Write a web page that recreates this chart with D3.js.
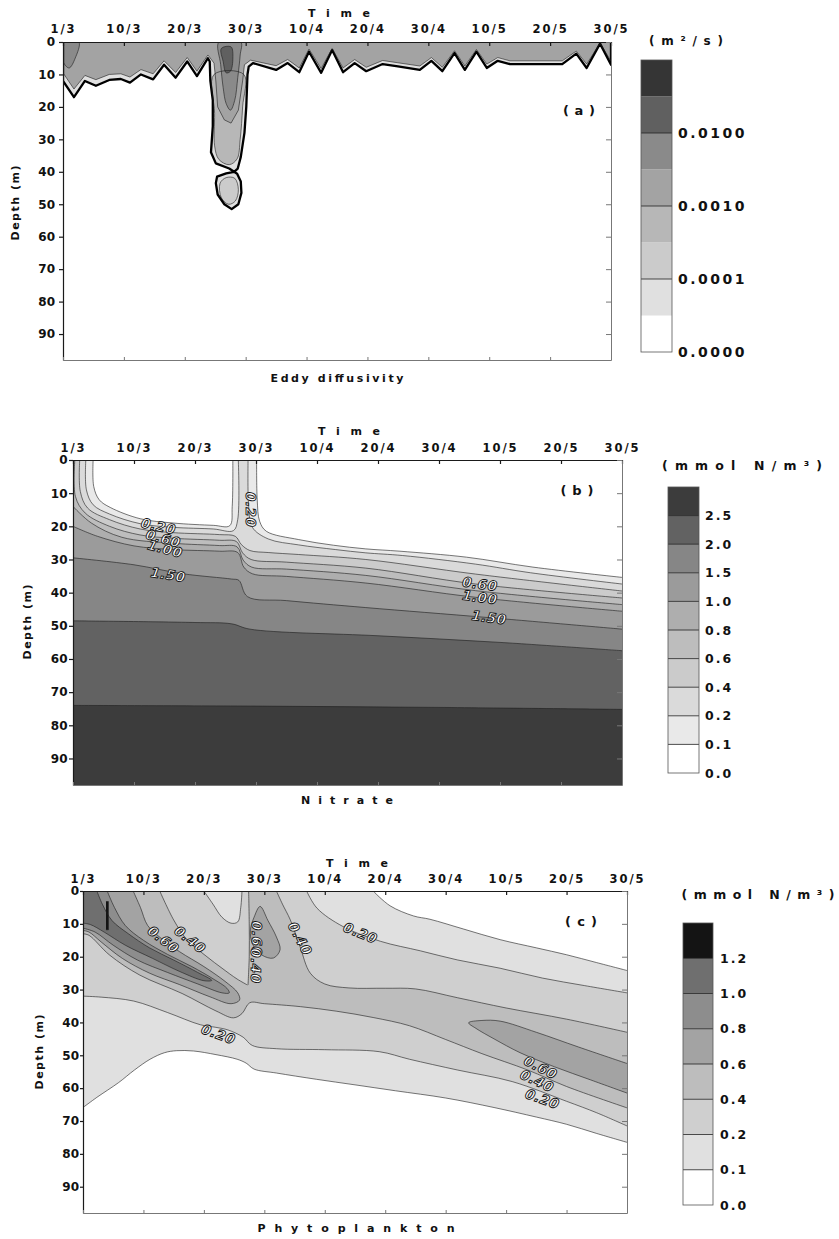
<!DOCTYPE html>
<html>
<head>
<meta charset="utf-8">
<title>Eddy diffusivity, nitrate and phytoplankton</title>
<script src="https://cdn.jsdelivr.net/npm/d3@7"></script>
<style>
	body { margin: 0; background: #fff; }
	svg text { font-family: "DejaVu Sans", "Liberation Sans", Arial, sans-serif; font-weight: bold; fill: #111; }
	.clabel { font-style: italic; fill: #fff; stroke: #111; stroke-width: 0.9px; text-rendering: geometricPrecision; }
</style>
</head>
<body>
<svg id="fig" width="839" height="1239"></svg>
<script>

// ---- shared axes ----
const dayTicks = [0, 10, 20, 30, 40, 50, 60, 70, 80, 90];
const dayLabels = ["1/3", "10/3", "20/3", "30/3", "10/4", "20/4", "30/4", "10/5", "20/5", "30/5"];
const depthTicks = [0, 10, 20, 30, 40, 50, 60, 70, 80, 90];
const dayDomain = [0, 90];
const depthDomain = [0, 98];

// ---- (a) eddy diffusivity, log10(m2/s); points are [day, depth] ----
const kzLevels = [-5, -4.5, -4, -3.5, -3, -2.5, -2, -1.5, -1];
const kzGrays = ["#ffffff", "#e0e0e0", "#cbcbcb", "#b7b7b7", "#a3a3a3", "#8a8a8a", "#606060", "#353535"];
const kzBarLabels = [["0.0000", -5], ["0.0001", -4], ["0.0010", -3], ["0.0100", -2]];

const kzOuter = [[0,0],[0,12],[1.8,17],[3.6,12],[5.4,13.5],[7.6,11.7],[9.5,11.4],[11,12.5],[12.8,10],[14.8,11.5],
	[16.6,7],[18.5,11],[20.4,6],[22,10.5],[23.8,5],[24.1,6],[24.2,12],[24.6,18],[24.6,26],[24.3,34],[25.1,37.4],
	[27.3,39],[28.1,40],[26.8,40.5],[25.3,41.5],[25.1,43.5],[25.4,47],[26.5,50],[27.7,51.5],[28.8,50],[29.3,46.5],
	[29.2,43],[28.6,40.6],[28.1,40],[28.7,39],[29.2,35.4],[29.8,28],[30.1,20],[30.3,10],[30.5,7.6],[31.2,6.5],
	[35,8.6],[36.9,6.5],[38.8,9.3],[40.4,3],[42.4,9.5],[44.2,2.5],[46,9.3],[47.9,6.5],[49.8,9],[52.5,6.8],[55,7.5],
	[58.6,8.6],[60.5,5.8],[62.3,9],[64.3,3.4],[66,8.6],[67.9,3],[69.6,8],[71.4,5.8],[73.4,6.8],[82,6.8],[84.3,3.6],
	[86,8],[88.2,0.5],[90,7],[90,0]];
const kzInner = [[0,0],[0,9.5],[1.8,14.5],[3.6,10.3],[5.4,11.6],[7.6,10],[9.5,9.8],[11,10.8],[12.8,8.5],[14.8,9.8],[16.6,5.8],
	[18.5,9.4],[20.4,4.8],[22,9],[23.8,4],[24.8,6.5],[25.1,12],[25.4,20],[26.5,24],[27.6,25],[28.8,21],[29.5,12],
	[29.8,7],[30.8,5.6],[35,7.3],[36.9,5.4],[38.8,8],[40.4,2.2],[42.4,8.2],[44.2,2],[46,8],[47.9,5.4],[49.8,7.8],
	[52.5,5.7],[55,6.4],[58.6,7.4],[60.5,4.8],[62.3,7.8],[64.3,2.7],[66,7.4],[67.9,2.3],[69.6,6.8],[71.4,4.8],
	[73.4,5.8],[82,5.8],[84.3,2.8],[86,6.8],[88.2,0.4],[90,5.9],[90,0]];
const kzColumnMid = [[24.8,10],[24.9,22],[24.9,32],[25.6,36.2],[27.3,37.8],[28.6,36],[29.1,30],[29.5,20],[29.7,10]];
const kzLowerLobe = [[25.8,43.5],[26.8,41.8],[28.2,42],[28.8,45.5],[28.3,49],[27.2,50],[26,48]];
const kzColumnTop = [[25.6,0],[25.9,7],[26.3,14],[26.8,19],[27.5,21],[28.2,18],[28.7,11],[29.1,4],[29.2,0]];
const kzCornerTop = [[0,0],[0,6],[1,8],[2,5],[2.6,0]];
const kzPeak = [[26,2],[26.3,6],[26.8,9.5],[27.5,9],[27.9,5],[27.6,1.5]];

// ---- (b) nitrate isolines, mmol N/m3 ----
const no3Levels = [0, 0.1, 0.2, 0.4, 0.6, 0.8, 1.0, 1.5, 2.0, 2.5, 3.0];
const no3Grays = ["#ffffff", "#e9e9e9", "#dadada", "#cbcbcb", "#bdbdbd", "#aeaeae", "#9b9b9b", "#868686", "#626262", "#3c3c3c"];
const no3BarLabels = [["0.0",0],["0.1",0.1],["0.2",0.2],["0.4",0.4],["0.6",0.6],["0.8",0.8],["1.0",1.0],["1.5",1.5],["2.0",2.0],["2.5",2.5]];

const no3Iso01a = [[3.3,0],[3.4,8],[4.3,12],[6.1,14.3],[11,17.7],[16.4,19],[23,19.7],[25.7,19.8],[26.1,14],[26.2,0]];
const no3Iso01b = [[30.1,0],[30.2,12],[30.6,18.5],[31.7,21.5],[37,24],[42.7,25.7],[48,26.8],[53.6,27.5],[64.5,29.3],[75.4,32.3],[90,35.4]];
const no3Iso02a = [[2.1,0],[2.2,9],[3.3,13.5],[6,16.3],[11,19.2],[16.4,20.3],[23,20.8],[26.3,21.3],[27,18],[27.1,0]];
const no3Iso02b = [[28.7,0],[28.8,14],[29.4,20.3],[32,23.8],[37,25.6],[43,27],[48,28],[54,28.8],[66,31.4],[75,34],[90,37.4]];
const no3Iso04 = [[1.1,0],[1.2,9.5],[2.4,14.5],[6,18],[11,20.8],[16.4,21.9],[24,22.5],[26.6,23],[27.6,25.5],[29,27.3],[32,27.9],[37,28.5],[48,30],[66,34.4],[90,39.5]];
const no3Iso06 = [[0.3,0],[0.4,11],[2,16],[6,20],[11,22.6],[16.4,23.6],[24,24.2],[26.8,24.6],[27.8,28],[29.2,30],[35,30.8],[48,32.6],[66,37.4],[90,41.6]];
const no3Iso08 = [[0,14],[3,19],[8,23.3],[16.4,25.1],[24,25.8],[26.9,26.2],[27.9,30.2],[29.3,32.3],[35,32.9],[48,34.8],[66,39.4],[90,43.6]];
const no3Iso10 = [[0,20],[4,23],[10,25.9],[16.4,27],[24,27.5],[27,27.9],[28,32.3],[29.4,34.3],[35,35.1],[48,37.1],[66,41.4],[90,45.6]];
const no3Iso15 = [[0,29.5],[10,31.6],[18,34.3],[26,35.9],[27.2,36.3],[28.6,41.2],[35,42.4],[48,44.5],[68,47.5],[90,51]];
const no3Iso20 = [[0,48.5],[20,49],[26,49.4],[29,51],[50,53],[70,55],[90,57.5]];
const no3Iso25 = [[0,74],[30,74.2],[60,74.6],[90,75.2]];
// [text, day, depth, angle]
const no3Labels = [["0.20",14,20,12],["0.60",14.8,23.7,15],["1.00",15.1,26.8,15],["1.50",15.6,34.6,9],
	["0.20",29.1,15,90],["0.60",66.7,37.4,8],["1.00",66.7,41.4,8],["1.50",68.2,47.5,8]];

// ---- (c) phytoplankton isolines, mmol N/m3 ----
const phyLevels = [0, 0.1, 0.2, 0.4, 0.6, 0.8, 1.0, 1.2, 1.4];
const phyGrays = ["#ffffff", "#e0e0e0", "#cfcfcf", "#bdbdbd", "#a3a3a3", "#8d8d8d", "#6f6f6f", "#141414"];
const phyBarLabels = [["0.0",0],["0.1",0.1],["0.2",0.2],["0.4",0.4],["0.6",0.6],["0.8",0.8],["1.0",1.0],["1.2",1.2]];

const phyIso01Upper = [[48,0],[50.8,4.5],[54.7,7.6],[57.4,8.6],[63,11.6],[69,14.8],[75,17.3],[80,19.4],[85,21.8],[90,24.2]];
const phyIso01Lower = [[90,76.5],[85,73.8],[80,71],[75,68.8],[68,65.9],[60,63],[51.7,60.8],[45,59],[38.6,57.3],[32,55.4],
	[28.3,54.2],[27,52.4],[25.5,51.2],[22,49.8],[18.3,48.7],[15.5,48.6],[13.5,49.2],[11.1,51.2],[8.5,54.5],[5.9,58.3],[2.3,62.8],[0,65.9]];
const phyIso02Notch = [[20,0],[21.5,4],[23,8],[24.5,9.8],[25.6,9.4],[26.1,5],[26.3,0]];
const phyIso02Upper = [[37,0],[38.7,5.2],[43,10.8],[49.2,15.3],[55.8,18.2],[62,21],[69,23.5],[76,26.5],[83,28.8],[90,31]];
const phyIso02Lower = [[90,71.5],[85,67.5],[80,64],[71,58],[62,54.5],[54,51.2],[49,48.9],[40,48.3],[32,48],[28,47],
	[26.5,44.5],[24,42.3],[22,41.5],[19.4,40.7],[14,37],[8.4,33.5],[3,32.3],[0,32]];
const phyIso04Diag = [[12.7,0],[15,8.8],[17.2,14.8],[20.5,20],[23,23.5],[25.5,26.8],[27.2,28.6]];
const phyIso04Wall = [[27.3,28.6],[27.5,20],[27.5,10],[27.4,0]];
const phyIso04Upper = [[32,0],[33,4],[34.3,8.8],[35.9,16.9],[37.6,25],[40,28.3],[44,29.5],[50,29.6],[55,29.8],[62,32.5],[70,35.6],[80,39],[90,43]];
const phyIso04Lower = [[90,66],[80,59.5],[73.6,54.5],[66,49.5],[60,45.2],[54,41],[48,38.5],[42,36.6],[36,35.2],[30,34.3],
	[27.6,34],[26.3,37.3],[24.9,38.6],[22,36.5],[16.4,31.2],[9.4,25.6],[4.4,19.5],[1,13.5],[0,13]];
const phyIso06Diag = [[8.3,0],[9.5,5],[10.7,10.5],[13,14.5],[16,18.5],[20,23],[23.5,27.5],[25.6,31],[25.9,33.2],[24.5,34.3],
	[21,32.2],[16,28.5],[11,25],[6.5,20.5],[3,15.5],[1,12.5],[0,12]];
const phyIso06Column = [[29.3,4.7],[30.6,9],[32,14],[32.6,17.9],[31.5,20.4],[29.6,19.5],[28,16],[27.7,11.8],[28.3,8]];
const phyIso06Right = [[90,52.5],[82,47.5],[75,43],[69,39.6],[66,39.4],[63.8,40.1],[65,41.8],[68,45],[72.3,49.2],[78,53.5],[84,57.5],[90,61.5]];
const phyIso08 = [[4,0],[5.2,5],[7,10.5],[10,15],[14,19.3],[18,23],[21.5,26.7],[23.8,29.6],[24.2,31],[23,31],[19,28.3],[14,24.8],[9,21],[5,16.5],[2,12.5],[0,11.3]];
const phyIso10 = [[2.3,0],[3.2,4],[4.8,9],[7.5,13],[11,17.3],[15,21],[19,24.8],[21.3,27.2],[20,27.3],[16,24.5],[11.5,20.5],[7,16.5],[3.5,12.5],[1.2,10.2],[0,9.8]];
const phyIso12 = [[3.8,3.2],[4.2,3.2],[4.2,11.8],[3.8,11.8]];
const phyLabels = [["0.60",13.3,14.8,38],["0.40",17.7,14.8,38],["0.60",28.7,14.5,90],["0.40",28.6,22.8,90],
	["0.40",35.9,14.5,62],["0.20",45.9,12.8,22],["0.20",22.4,43.6,20],["0.60",75.7,53.7,27],["0.40",75.1,57.8,25],["0.20",76,63.3,20]];


function whenDocumentLoaded(action) {
	if (document.readyState === "loading") {
		document.addEventListener("DOMContentLoaded", action);
	} else {
		action();
	}
}

class ContourPanel {

	constructor(svg, name, box, levels, grays) {
		this.svg = svg;
		this.box = box;
		this.levels = levels;
		this.grays = grays;

		this.x = d3.scaleLinear().domain(dayDomain).range([box.left, box.right]);
		this.y = d3.scaleLinear().domain(depthDomain).range([box.top, box.bottom]);

		const clip_id = 'clip-' + name;
		svg.append('clipPath').attr('id', clip_id)
			.append('rect')
			.attr('x', box.left).attr('y', box.top)
			.attr('width', box.right - box.left).attr('height', box.bottom - box.top);

		this.plot_area = svg.append('g').attr('clip-path', 'url(#' + clip_id + ')');
		this.line_area = svg.append('g').attr('clip-path', 'url(#' + clip_id + ')');
		this.label_area = svg.append('g');
	}

	colorOf(v) {
		return this.grays[this.levels.indexOf(v)];
	}

	/*
		A region is a list of pieces: pieces of 1 or 2 points are corners on the frame (straight),
		longer pieces are isolines (smoothed when region.smooth is set)
	*/
	regionPath(region) {
		const line = d3.line().x(p => this.x(p[0])).y(p => this.y(p[1]));
		if (region.closed) {
			return line.curve(d3.curveCatmullRomClosed.alpha(0.5))(region.parts[0]);
		}
		return region.parts.map((pts, i) => {
			let s;
			if (region.smooth && pts.length > 2) {
				s = line.curve(d3.curveCatmullRom.alpha(0.5))(pts);
				s = s.slice(1);
			} else {
				s = pts.map(p => this.x(p[0]) + ',' + this.y(p[1])).join('L');
			}
			return (i === 0 ? 'M' : 'L') + s;
		}).join('') + 'Z';
	}

	drawRegions(regions) {
		// lowest level first, so each inner region sits on top of the one around it
		regions.slice().sort((a, b) => a.v - b.v).forEach(region => {
			this.plot_area.append('path')
				.attr('d', this.regionPath(region))
				.attr('fill', this.colorOf(region.v));
		});

		// contour lines, only along the isolines, not along the frame
		const line = d3.line().x(p => this.x(p[0])).y(p => this.y(p[1]));
		regions.forEach(region => {
			const width = region.thick ? 2.3 : 0.6;
			const color = region.thick ? '#000' : '#1d1d1d';
			if (region.closed) {
				this.line_area.append('path')
					.attr('d', this.regionPath(region))
					.attr('fill', 'none').attr('stroke', color).attr('stroke-width', width);
				return;
			}
			region.parts.filter(pts => pts.length > 2).forEach(pts => {
				const curve = region.smooth ? d3.curveCatmullRom.alpha(0.5) : d3.curveLinear;
				this.line_area.append('path')
					.attr('d', line.curve(curve)(pts))
					.attr('fill', 'none').attr('stroke', color)
					.attr('stroke-width', width).attr('stroke-linejoin', 'round');
			});
		});
	}

	drawLabels(labels) {
		this.label_area.selectAll('text.clabel')
			.data(labels)
			.enter()
			.append('text')
			.attr('class', 'clabel')
			.attr('text-anchor', 'middle')
			.attr('dy', '0.35em')
			.attr('font-size', 13.5)
			.attr('letter-spacing', 0.5)
			.attr('transform', d => 'translate(' + this.x(d[1]) + ',' + this.y(d[2]) + ') rotate(' + d[3] + ')')
			.text(d => d[0]);
	}

	drawAxes(style) {
		const box = this.box;
		const axes = this.svg.append('g');

		const top = axes.append('g')
			.attr('transform', 'translate(0,' + box.top + ')')
			.call(d3.axisTop(this.x).tickValues(dayTicks).tickFormat((d, i) => dayLabels[i])
				.tickSizeInner(-4).tickSizeOuter(0).tickPadding(style.topPad));
		top.selectAll('text').attr('font-size', 11.5).attr('letter-spacing', 2).attr('font-family', null);

		const left = axes.append('g')
			.attr('transform', 'translate(' + box.left + ',0)')
			.call(d3.axisLeft(this.y).tickValues(depthTicks).tickSizeInner(style.leftTick).tickSizeOuter(0)
				.tickPadding(style.leftPad));
		left.selectAll('text').attr('font-size', 12).attr('font-family', null);

		const right = axes.append('g')
			.attr('transform', 'translate(' + box.right + ',0)')
			.call(d3.axisRight(this.y).tickValues(depthTicks).tickSizeInner(-5).tickSizeOuter(0).tickFormat(''));
		const bottom = axes.append('g')
			.attr('transform', 'translate(0,' + box.bottom + ')')
			.call(d3.axisBottom(this.x).tickValues(dayTicks).tickSizeInner(-3).tickSizeOuter(0).tickFormat(''));

		[top, left].forEach(a => a.selectAll('path, line').attr('stroke', '#1a1a1a').attr('stroke-width', 1.2));
		[right, bottom].forEach(a => a.selectAll('path, line').attr('stroke', '#777').attr('stroke-width', 1));
		axes.selectAll('text').attr('fill', '#111');
	}

	drawColorbar(bar, labels) {
		const n = this.grays.length;
		const yb = d3.scaleLinear().domain([0, n]).range([bar.y1, bar.y0]);
		const g = this.svg.append('g');

		g.selectAll('rect.band')
			.data(this.grays)
			.enter()
			.append('rect')
			.attr('class', 'band')
			.attr('x', bar.x0).attr('width', bar.x1 - bar.x0)
			.attr('y', (d, i) => yb(i + 1))
			.attr('height', (d, i) => yb(i) - yb(i + 1))
			.attr('fill', d => d);

		g.selectAll('line.sep')
			.data(labels.filter(l => this.levels.indexOf(l[1]) > 0))
			.enter()
			.append('line')
			.attr('x1', bar.x0).attr('x2', bar.x1)
			.attr('y1', d => yb(this.levels.indexOf(d[1])))
			.attr('y2', d => yb(this.levels.indexOf(d[1])))
			.attr('stroke', '#222').attr('stroke-width', 0.8);

		g.append('rect')
			.attr('x', bar.x0).attr('y', bar.y0)
			.attr('width', bar.x1 - bar.x0).attr('height', bar.y1 - bar.y0)
			.attr('fill', 'none').attr('stroke', '#555').attr('stroke-width', 0.8);

		g.selectAll('text')
			.data(labels)
			.enter()
			.append('text')
			.attr('x', bar.lx)
			.attr('y', d => yb(this.levels.indexOf(d[1])))
			.attr('dy', '0.36em')
			.attr('font-size', bar.size)
			.attr('letter-spacing', bar.spacing)
			.text(d => d[0]);
	}
}

function addText(svg, x, y, str, size, length, rotate) {
	const t = svg.append('text')
		.attr('text-anchor', 'middle')
		.attr('font-size', size)
		.attr('textLength', length)
		.attr('lengthAdjust', 'spacing')
		.text(str);
	if (rotate) {
		t.attr('transform', 'translate(' + x + ',' + y + ') rotate(' + rotate + ')');
	} else {
		t.attr('x', x).attr('y', y);
	}
	return t;
}

whenDocumentLoaded(() => {
	const svg = d3.select('#fig');

	// ---- (a) ----
	const pa = new ContourPanel(svg, 'a', {left: 63, right: 611, top: 42, bottom: 360}, kzLevels, kzGrays);
	pa.drawRegions([
		{v: -4.5, parts: [kzOuter], thick: true},
		{v: -4, parts: [kzLowerLobe], closed: true},
		{v: -3.5, parts: [kzColumnMid], closed: true},
		{v: -3, parts: [kzInner]},
		{v: -2.5, parts: [kzColumnTop], closed: true},
		{v: -2.5, parts: [kzCornerTop], closed: true},
		{v: -2, parts: [kzPeak], closed: true}
	]);
	pa.drawAxes({topPad: 9, leftTick: 4, leftPad: 4});
	pa.drawColorbar({x0: 641, x1: 672, y0: 60, y1: 352, lx: 678, size: 14, spacing: 2.5}, kzBarLabels);
	addText(svg, 339, 17, 'Time', 11, 62);
	addText(svg, 337, 382, 'Eddy diffusivity', 11, 133);
	addText(svg, 19, 203, 'Depth (m)', 11, 75, -90);
	addText(svg, 579, 115, '( a )', 13, 32);
	addText(svg, 686, 45, '( m ² / s )', 12, 74);

	// ---- (b) ----
	const nitrateLevels = [
		{v: 0.1, parts: [[[0, 0]], no3Iso01a, no3Iso01b, [[90, 98], [0, 98]]]},
		{v: 0.2, parts: [[[0, 0]], no3Iso02a, no3Iso02b, [[90, 98], [0, 98]]]},
		{v: 0.4, parts: [[[0, 0]], no3Iso04, [[90, 98], [0, 98]]]},
		{v: 0.6, parts: [[[0, 0]], no3Iso06, [[90, 98], [0, 98]]]},
		{v: 0.8, parts: [no3Iso08, [[90, 98], [0, 98]]]},
		{v: 1.0, parts: [no3Iso10, [[90, 98], [0, 98]]]},
		{v: 1.5, parts: [no3Iso15, [[90, 98], [0, 98]]]},
		{v: 2.0, parts: [no3Iso20, [[90, 98], [0, 98]]]},
		{v: 2.5, parts: [no3Iso25, [[90, 98], [0, 98]]]}
	].map(r => Object.assign(r, {smooth: true}));
	const pb = new ContourPanel(svg, 'b', {left: 73, right: 622, top: 460, bottom: 785}, no3Levels, no3Grays);
	pb.drawRegions(nitrateLevels);
	pb.drawLabels(no3Labels);
	pb.drawAxes({topPad: 8, leftTick: 4, leftPad: 1.5});
	pb.drawColorbar({x0: 668, x1: 699, y0: 487, y1: 773, lx: 705, size: 12.5, spacing: 2}, no3BarLabels);
	addText(svg, 349, 435, 'Time', 11, 62);
	addText(svg, 347, 804, 'Nitrate', 11, 92);
	addText(svg, 31, 622, 'Depth (m)', 11, 75, -90);
	addText(svg, 577, 495, '( b )', 13, 33);
	addText(svg, 742, 470, '(mmol N/m³)', 12.5, 160);

	// ---- (c) ----
	const phytoLevels = [
		{v: 0.1, parts: [[[0, 0]], phyIso01Upper, phyIso01Lower]},
		{v: 0.2, parts: [[[0, 0]], phyIso02Notch, phyIso02Upper, phyIso02Lower]},
		{v: 0.4, parts: [[[0, 0]], phyIso04Diag, phyIso04Wall, phyIso04Upper, phyIso04Lower]},
		{v: 0.6, parts: [[[0, 0]], phyIso06Diag]},
		{v: 0.6, parts: [phyIso06Column], closed: true},
		{v: 0.6, parts: [phyIso06Right]},
		{v: 0.8, parts: [[[0, 0]], phyIso08]},
		{v: 1.0, parts: [[[0, 0]], phyIso10]},
		{v: 1.2, parts: [phyIso12]}
	].map(r => Object.assign({smooth: r.v < 1.2}, r));
	const pc = new ContourPanel(svg, 'c', {left: 83, right: 627, top: 891, bottom: 1213}, phyLevels, phyGrays);
	pc.drawRegions(phytoLevels);
	pc.drawLabels(phyLabels);
	pc.drawAxes({topPad: 8, leftTick: 3, leftPad: 1});
	pc.drawColorbar({x0: 683, x1: 713, y0: 923, y1: 1205, lx: 720, size: 12.5, spacing: 2}, phyBarLabels);
	addText(svg, 357, 867, 'Time', 11, 62);
	addText(svg, 356, 1232, 'Phytoplankton', 11, 197);
	addText(svg, 43, 1052, 'Depth (m)', 11, 75, -90);
	addText(svg, 581, 926, '( c )', 13, 32);
	addText(svg, 758, 899, '(mmol N/m³)', 12.5, 153);
});
</script>
</body>
</html>
